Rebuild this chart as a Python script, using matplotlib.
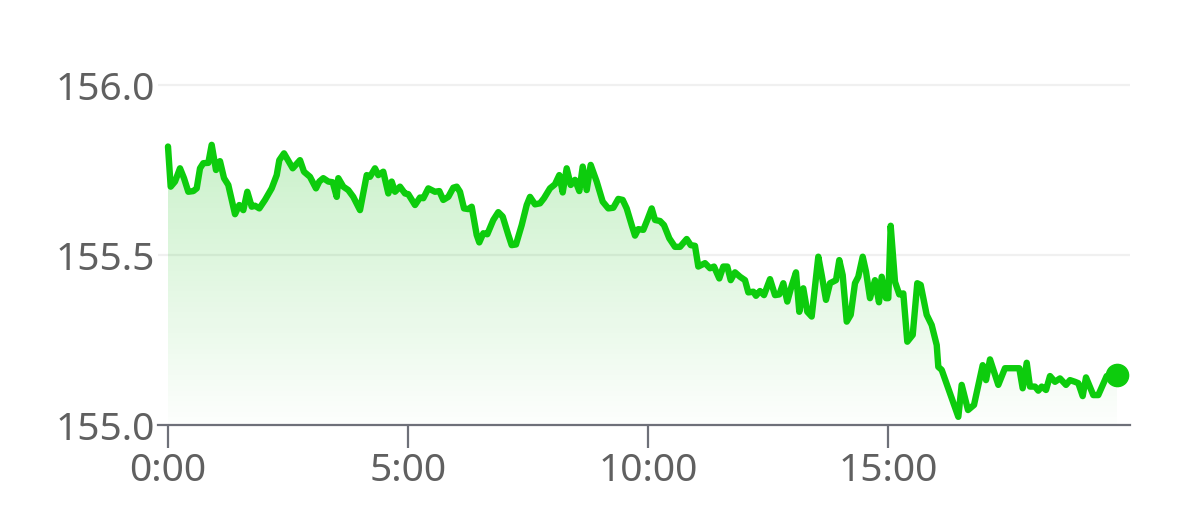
import numpy as np
import matplotlib
matplotlib.use("Agg")
import matplotlib.pyplot as plt

# ---- data (hours since 0:00, price) ----
hours = [0.000, 0.056, 0.146, 0.250, 0.333, 0.423, 0.527, 0.598, 0.667, 0.735,
         0.840, 0.910, 1.000, 1.083, 1.167, 1.256, 1.396, 1.485, 1.569, 1.652,
         1.744, 1.812, 1.902, 2.021, 2.160, 2.265, 2.319, 2.417, 2.598, 2.750,
         2.833, 2.958, 3.083, 3.152, 3.235, 3.340, 3.431, 3.515, 3.548, 3.652,
         3.756, 3.860, 4.000, 4.140, 4.208, 4.312, 4.381, 4.485, 4.590, 4.660,
         4.729, 4.833, 4.937, 5.006, 5.146, 5.250, 5.319, 5.423, 5.562, 5.652,
         5.735, 5.840, 5.944, 6.015, 6.083, 6.167, 6.256, 6.327, 6.431, 6.485,
         6.569, 6.652, 6.777, 6.881, 6.973, 7.090, 7.160, 7.250, 7.369, 7.473,
         7.542, 7.646, 7.750, 7.833, 7.958, 8.062, 8.152, 8.223, 8.306, 8.390,
         8.479, 8.569, 8.640, 8.723, 8.806, 8.931, 9.056, 9.173, 9.277, 9.381,
         9.473, 9.556, 9.660, 9.729, 9.798, 9.902, 9.985, 10.077, 10.146, 10.250,
         10.333, 10.444, 10.562, 10.667, 10.806, 10.890, 10.979, 11.048, 11.187, 11.292,
         11.375, 11.485, 11.569, 11.652, 11.723, 11.812, 11.917, 12.021, 12.090, 12.194,
         12.250, 12.333, 12.417, 12.542, 12.646, 12.735, 12.819, 12.902, 12.994, 13.083,
         13.152, 13.235, 13.319, 13.410, 13.548, 13.619, 13.708, 13.792, 13.917, 13.985,
         14.056, 14.140, 14.223, 14.312, 14.381, 14.473, 14.542, 14.625, 14.729, 14.812,
         14.869, 14.958, 15.006, 15.056, 15.146, 15.235, 15.319, 15.402, 15.515, 15.610,
         15.681, 15.806, 15.910, 16.015, 16.048, 16.119, 16.465, 16.535, 16.667, 16.792,
         16.973, 17.042, 17.125, 17.298, 17.437, 17.577, 17.735, 17.806, 17.890, 17.958,
         18.062, 18.131, 18.202, 18.292, 18.375, 18.479, 18.583, 18.708, 18.792, 18.896,
         18.965, 19.056, 19.125, 19.277, 19.381, 19.556, 19.771]

prices = [155.819, 155.701, 155.716, 155.755, 155.726, 155.686, 155.688, 155.696, 155.755, 155.770,
          155.771, 155.824, 155.750, 155.776, 155.726, 155.706, 155.620, 155.647, 155.632, 155.686,
          155.642, 155.645, 155.637, 155.662, 155.696, 155.735, 155.779, 155.799, 155.755, 155.779,
          155.745, 155.730, 155.696, 155.716, 155.726, 155.716, 155.714, 155.671, 155.726, 155.701,
          155.691, 155.671, 155.632, 155.735, 155.730, 155.755, 155.735, 155.745, 155.681, 155.716,
          155.686, 155.701, 155.681, 155.679, 155.647, 155.669, 155.667, 155.696, 155.686, 155.688,
          155.662, 155.671, 155.698, 155.701, 155.686, 155.637, 155.635, 155.642, 155.559, 155.537,
          155.564, 155.561, 155.603, 155.626, 155.613, 155.559, 155.529, 155.531, 155.588, 155.647,
          155.671, 155.649, 155.652, 155.667, 155.696, 155.708, 155.735, 155.684, 155.755, 155.706,
          155.721, 155.688, 155.760, 155.691, 155.765, 155.716, 155.657, 155.637, 155.639, 155.665,
          155.662, 155.637, 155.588, 155.557, 155.576, 155.574, 155.603, 155.637, 155.603, 155.600,
          155.588, 155.549, 155.524, 155.524, 155.547, 155.529, 155.527, 155.466, 155.476, 155.461,
          155.466, 155.431, 155.466, 155.466, 155.426, 155.449, 155.436, 155.426, 155.390, 155.392,
          155.380, 155.394, 155.382, 155.429, 155.382, 155.384, 155.417, 155.363, 155.410, 155.449,
          155.333, 155.402, 155.333, 155.319, 155.495, 155.441, 155.368, 155.417, 155.426, 155.485,
          155.441, 155.304, 155.324, 155.417, 155.436, 155.495, 155.451, 155.373, 155.426, 155.361,
          155.436, 155.373, 155.373, 155.586, 155.421, 155.384, 155.387, 155.245, 155.265, 155.417,
          155.412, 155.324, 155.294, 155.235, 155.171, 155.162, 155.024, 155.118, 155.044, 155.059,
          155.176, 155.132, 155.193, 155.118, 155.167, 155.167, 155.167, 155.108, 155.183, 155.113,
          155.113, 155.101, 155.113, 155.103, 155.144, 155.127, 155.137, 155.118, 155.132, 155.127,
          155.123, 155.085, 155.140, 155.088, 155.088, 155.144, 155.147]

x_ticks = [0, 5, 10, 15]
x_tick_labels = ["0:00", "5:00", "10:00", "15:00"]
y_ticks = [155.0, 155.5, 156.0]
y_tick_labels = ["155.0", "155.5", "156.0"]

LINE = "#0dcc0d"
TEXT = "#606060"
AXIS = "#6e7079"
GRID = "#f0f0f0"

plt.rcParams["font.family"] = ["Noto Sans", "DejaVu Sans"]

W, H = 1179, 521
fig = plt.figure(figsize=(W / 100, H / 100), dpi=100)
left_px, right_px, bottom_px, top_px = 158, 1130, 425, 75
ax = fig.add_axes([left_px / W, 1 - bottom_px / H,
                   (right_px - left_px) / W, (bottom_px - top_px) / H])

px_per_hour = 48.0
px_per_unit = 340.0
ax.set_xlim(-(168 - left_px) / px_per_hour, (right_px - 168) / px_per_hour)
ax.set_ylim(155.0, 156.0 + (425 - 340 - top_px) / px_per_unit)

x = np.array(hours)
y = np.array(prices)

# gradient area fill
poly = ax.fill_between(x, y, 155.0, facecolor="none", edgecolor="none")
grad = np.zeros((256, 1, 4))
grad[:, 0, 0] = 0.05
grad[:, 0, 1] = 0.75
grad[:, 0, 2] = 0.05
grad[:, 0, 3] = np.linspace(0.01, 0.22, 256)
img = ax.imshow(grad, extent=[x.min(), x.max(), 155.0, y.max()], origin="lower",
                aspect="auto", zorder=1, interpolation="bilinear")
path = poly.get_paths()[0]
img.set_clip_path(path, transform=ax.transData)

ax.plot(x, y, color=LINE, lw=4.6, zorder=3, solid_joinstyle="round",
        solid_capstyle="round")
ax.plot(x[-1], y[-1], "o", color=LINE, ms=16, zorder=4, clip_on=False)

# grid
for v in y_ticks[1:]:
    ax.axhline(v, color=GRID, lw=1.6, zorder=0)

for s in ["top", "right", "left"]:
    ax.spines[s].set_visible(False)
ax.spines["bottom"].set_color(AXIS)
ax.spines["bottom"].set_linewidth(1.6)
ax.spines["bottom"].set_zorder(5)

ax.set_xticks(x_ticks)
ax.set_xticklabels(x_tick_labels)
ax.set_yticks(y_ticks)
ax.set_yticklabels(y_tick_labels)
ax.tick_params(axis="x", direction="out", length=16.5, width=1.6, color=AXIS,
               labelsize=28, labelcolor=TEXT, pad=3)
ax.tick_params(axis="y", length=0, labelsize=28, labelcolor=TEXT, pad=2)

fig.savefig("out.png", dpi=100, facecolor="white")
